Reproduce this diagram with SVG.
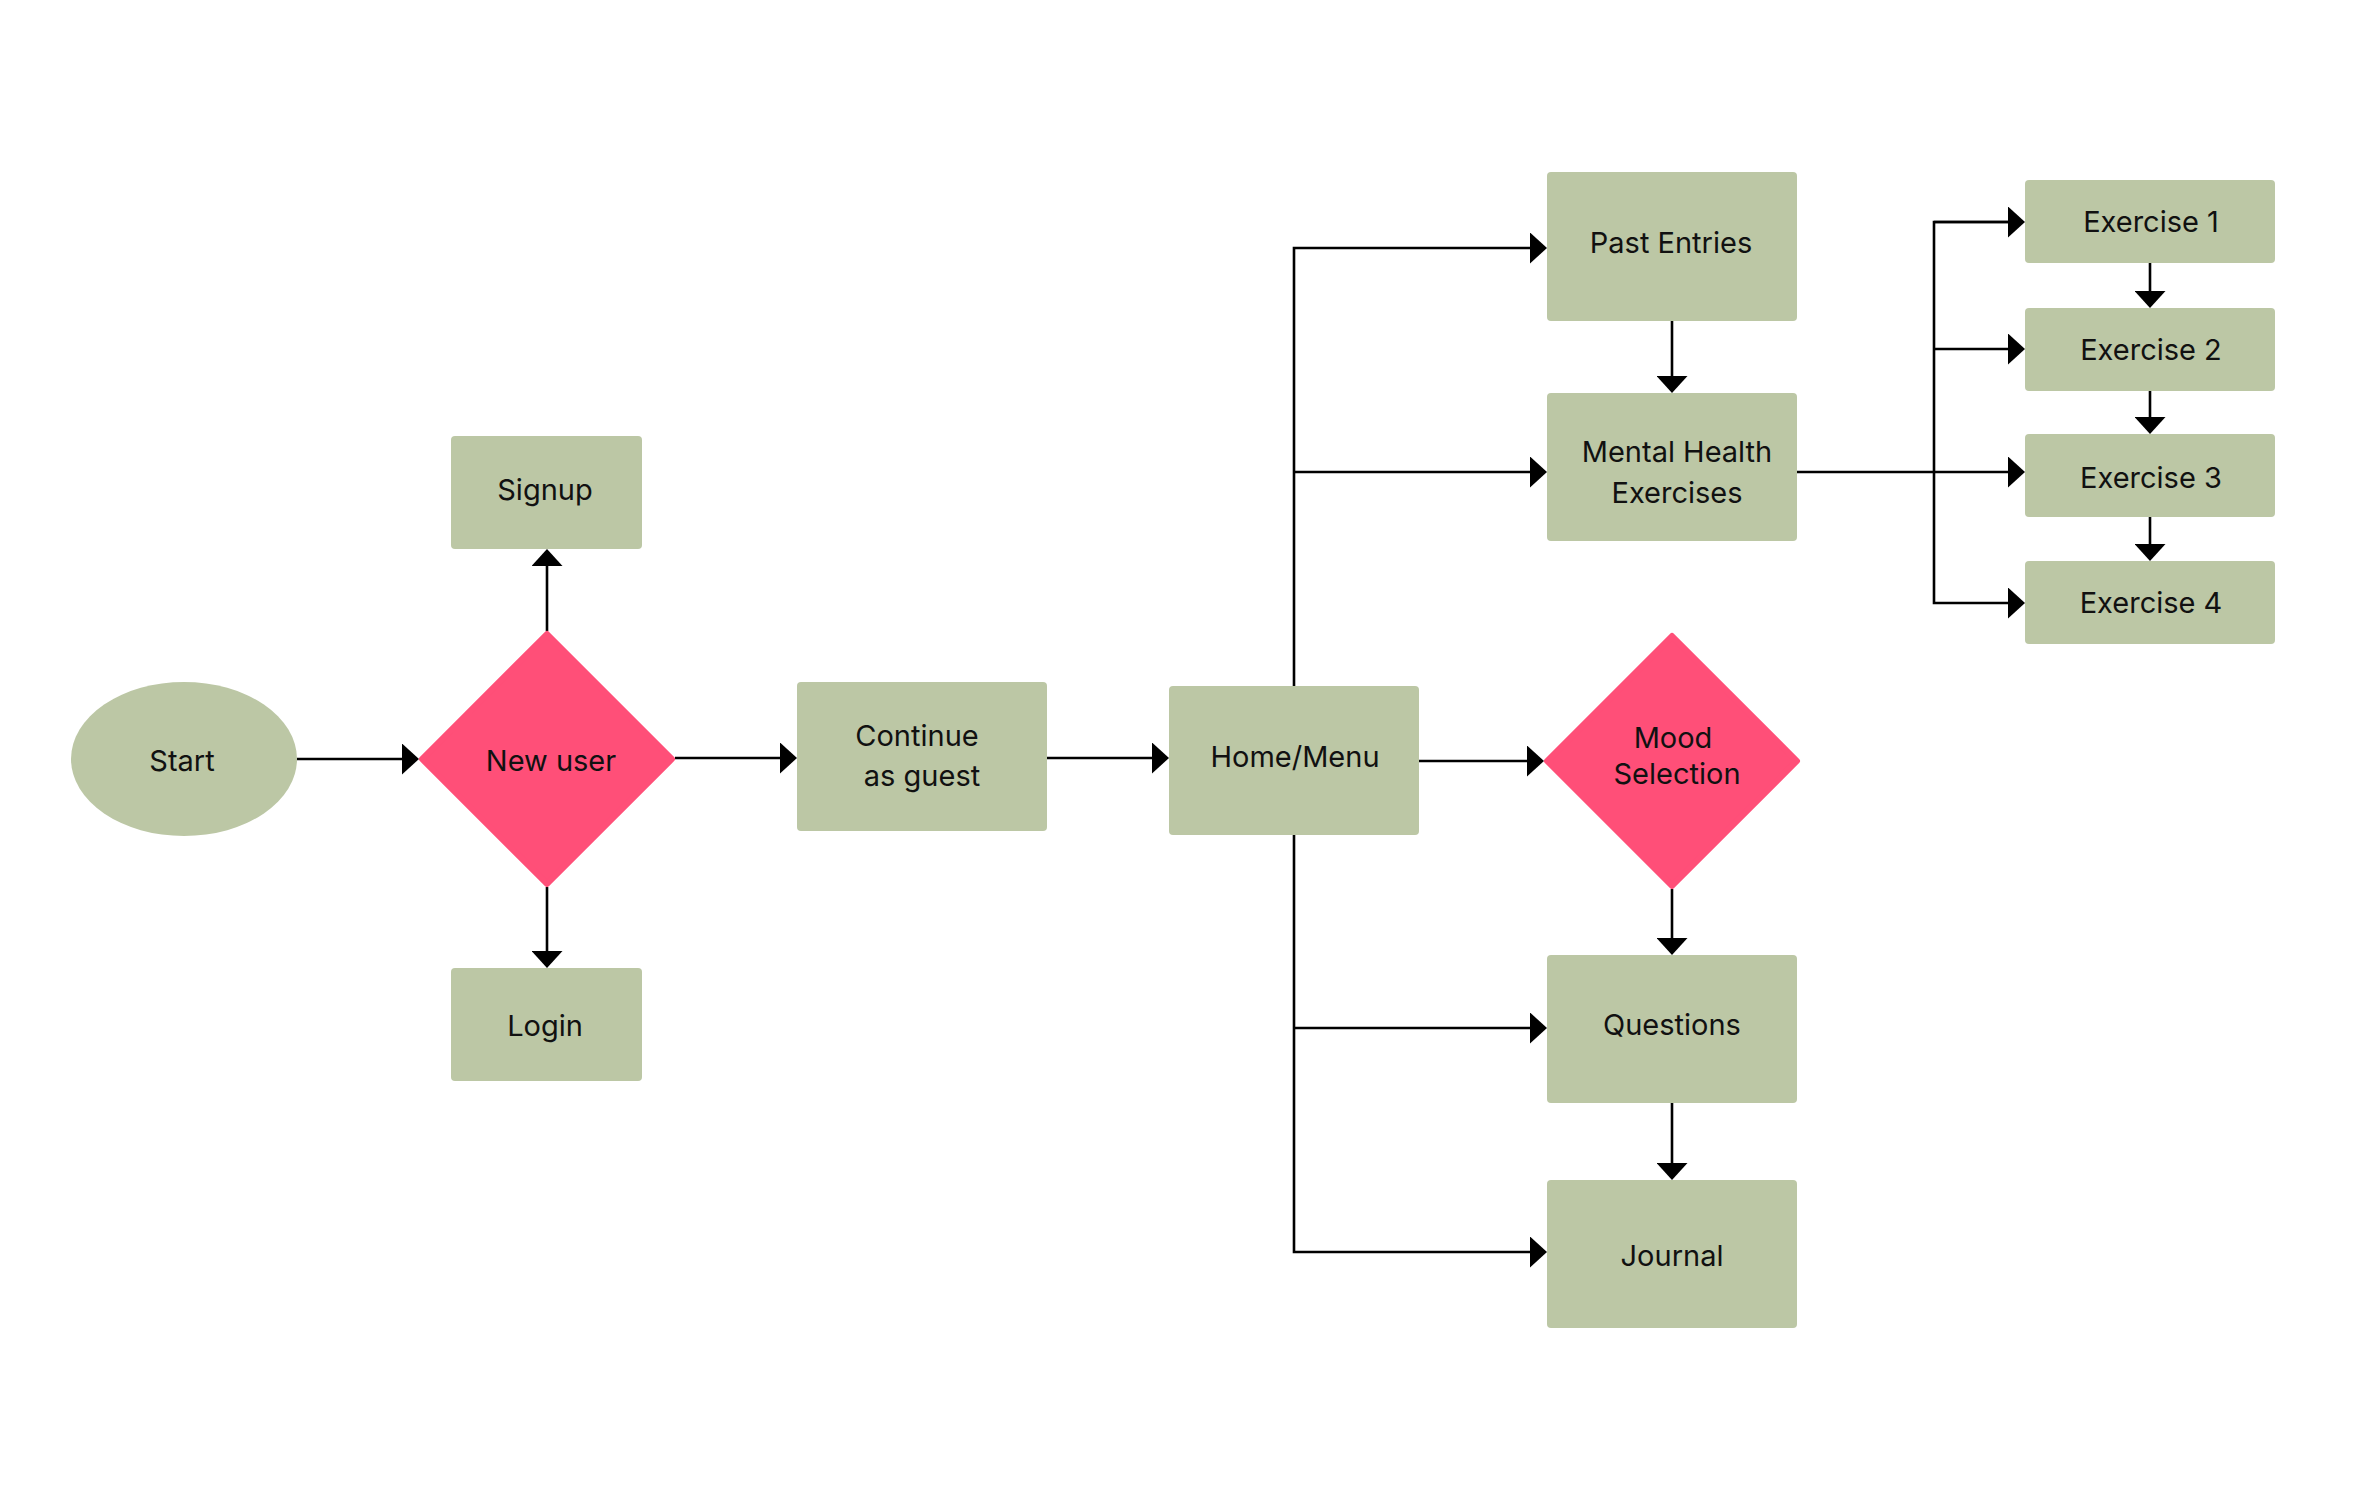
<svg xmlns="http://www.w3.org/2000/svg" width="2377" height="1500" viewBox="0 0 2377 1500">
  <style>
    .box { fill: #BCC7A5; }
    .dec { fill: #FF4F78; stroke: #FF4F78; stroke-width: 6; stroke-linejoin: round; }
    .lbl { font-family: Inter, "Noto Sans", "Liberation Sans", sans-serif; font-size: 29px; fill: #111111; text-anchor: middle; }
    .con path { fill: none; stroke: #000000; stroke-width: 2.6; }
  </style>
  <defs>
    <marker id="arr" markerUnits="userSpaceOnUse" markerWidth="17" markerHeight="31" viewBox="0 0 17 31" refX="7" refY="15.5" orient="auto">
      <path d="M0,0 L17,15.5 L0,31 Z" fill="#000000"/>
    </marker>
  </defs>
  <rect x="0" y="0" width="2377" height="1500" fill="#FFFFFF"/>

  <g class="con">
    <path d="M297,759 H409" marker-end="url(#arr)"/>
    <path d="M547,631 V559" marker-end="url(#arr)"/>
    <path d="M547,887 V958" marker-end="url(#arr)"/>
    <path d="M675,758 H787" marker-end="url(#arr)"/>
    <path d="M1047,758 H1159" marker-end="url(#arr)"/>
    <path d="M1419,761 H1534" marker-end="url(#arr)"/>
    <path d="M1294,686 V248 H1537" marker-end="url(#arr)"/>
    <path d="M1294,472 H1537" marker-end="url(#arr)"/>
    <path d="M1294,835 V1252 H1537" marker-end="url(#arr)"/>
    <path d="M1294,1028 H1537" marker-end="url(#arr)"/>
    <path d="M1672,321 V383" marker-end="url(#arr)"/>
    <path d="M1672,889 V945" marker-end="url(#arr)"/>
    <path d="M1672,1103 V1170" marker-end="url(#arr)"/>
    <path d="M1797,472 H2015" marker-end="url(#arr)"/>
    <path d="M2015,222 H1934 V603 H2015" marker-start="none" marker-end="url(#arr)"/>
    <path d="M1934,222 H2015" marker-end="url(#arr)"/>
    <path d="M1934,349 H2015" marker-end="url(#arr)"/>
    <path d="M2150,263 V298" marker-end="url(#arr)"/>
    <path d="M2150,391 V424" marker-end="url(#arr)"/>
    <path d="M2150,517 V551" marker-end="url(#arr)"/>
  </g>

  <g id="start">
    <ellipse cx="184" cy="759" rx="113" ry="77" class="box"/>
    <text x="182" y="771" class="lbl">Start</text>
  </g>
  <g id="new-user">
    <polygon points="547,634 672,759 547,884 422,759" class="dec"/>
    <text x="551" y="771" class="lbl">New user</text>
  </g>
  <g id="signup">
    <rect x="451" y="436" width="191" height="113" rx="4" class="box"/>
    <text x="545" y="500" class="lbl">Signup</text>
  </g>
  <g id="login">
    <rect x="451" y="968" width="191" height="113" rx="4" class="box"/>
    <text x="545" y="1036" class="lbl">Login</text>
  </g>
  <g id="continue-guest">
    <rect x="797" y="682" width="250" height="149" rx="4" class="box"/>
    <text x="917" y="746" class="lbl">Continue</text>
    <text x="922" y="786" class="lbl">as guest</text>
  </g>
  <g id="home-menu">
    <rect x="1169" y="686" width="250" height="149" rx="4" class="box"/>
    <text x="1295" y="767" class="lbl">Home/Menu</text>
  </g>
  <g id="past-entries">
    <rect x="1547" y="172" width="250" height="149" rx="4" class="box"/>
    <text x="1671" y="253" class="lbl">Past Entries</text>
  </g>
  <g id="mental-health">
    <rect x="1547" y="393" width="250" height="148" rx="4" class="box"/>
    <text x="1677" y="462" class="lbl">Mental Health</text>
    <text x="1677" y="503" class="lbl">Exercises</text>
  </g>
  <g id="mood-selection">
    <polygon points="1672,636 1797,761 1672,886 1547,761" class="dec"/>
    <text x="1673" y="748" class="lbl">Mood</text>
    <text x="1677" y="784" class="lbl">Selection</text>
  </g>
  <g id="questions">
    <rect x="1547" y="955" width="250" height="148" rx="4" class="box"/>
    <text x="1672" y="1035" class="lbl">Questions</text>
  </g>
  <g id="journal">
    <rect x="1547" y="1180" width="250" height="148" rx="4" class="box"/>
    <text x="1672" y="1266" class="lbl">Journal</text>
  </g>
  <g id="exercise-1">
    <rect x="2025" y="180" width="250" height="83" rx="4" class="box"/>
    <text x="2151" y="232" class="lbl">Exercise 1</text>
  </g>
  <g id="exercise-2">
    <rect x="2025" y="308" width="250" height="83" rx="4" class="box"/>
    <text x="2151" y="360" class="lbl">Exercise 2</text>
  </g>
  <g id="exercise-3">
    <rect x="2025" y="434" width="250" height="83" rx="4" class="box"/>
    <text x="2151" y="488" class="lbl">Exercise 3</text>
  </g>
  <g id="exercise-4">
    <rect x="2025" y="561" width="250" height="83" rx="4" class="box"/>
    <text x="2151" y="613" class="lbl">Exercise 4</text>
  </g>
</svg>
